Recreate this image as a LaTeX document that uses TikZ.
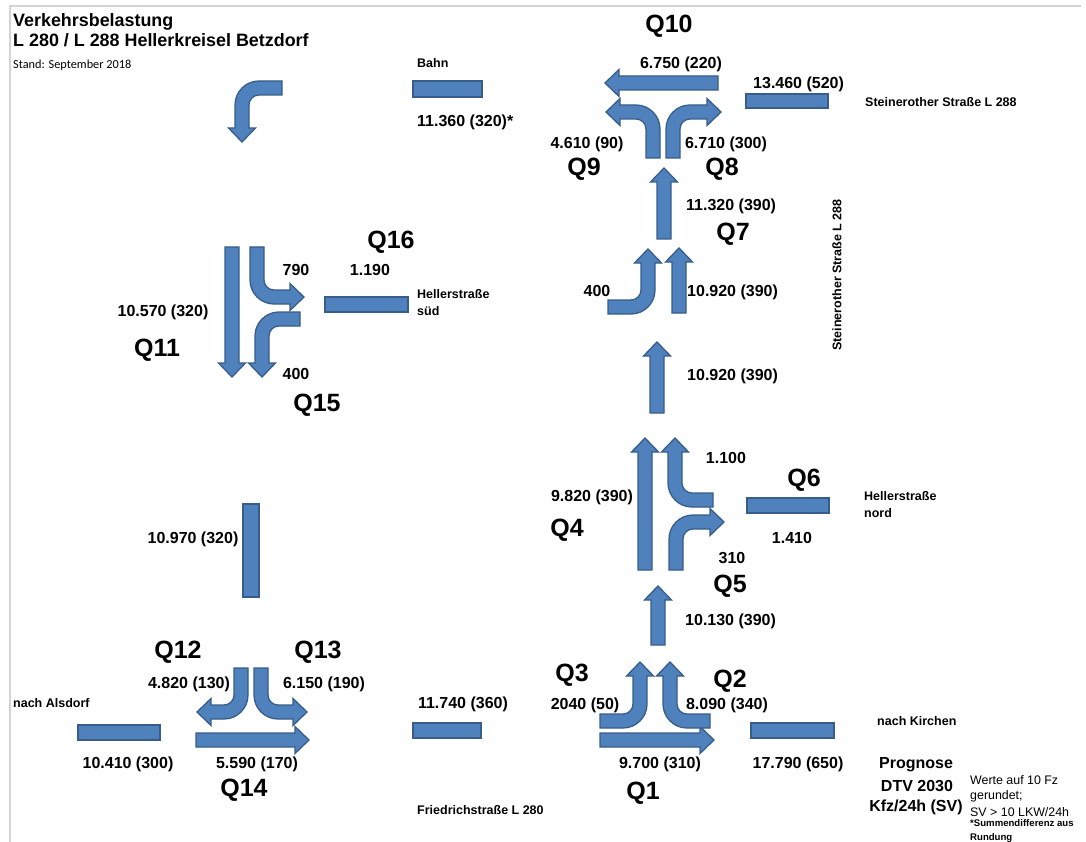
\documentclass[tikz,border=0pt]{standalone}
\usepackage{fontspec}
\setmainfont{Liberation Sans}
\newfontfamily\calibrifont{Carlito}
\definecolor{flowfill}{HTML}{4F81BD}
\definecolor{flowline}{HTML}{385D8A}
\definecolor{framegrey}{HTML}{D4D4D4}
\tikzset{
  flow/.style={fill=flowfill, draw=flowline, line width=1.3pt, line join=miter},
  num/.style={font=\fontsize{16}{19}\selectfont\bfseries, anchor=base, inner sep=0pt},
  numw/.style={num, anchor=base west},
  qlab/.style={font=\fontsize{25}{30}\selectfont\bfseries, anchor=base, inner sep=0pt},
  smalllab/.style={font=\fontsize{12.5}{15}\selectfont\bfseries, anchor=base west, inner sep=0pt},
  notelab/.style={font=\fontsize{12.4}{15}\selectfont, anchor=base west, inner sep=0pt},
  tinylab/.style={font=\fontsize{9.6}{11}\selectfont\bfseries, anchor=base west, inner sep=0pt},
  titlelab/.style={font=\fontsize{17.9}{21}\selectfont\bfseries, anchor=base west, inner sep=0pt}
}
% straight arrows: #1 centre line, #2 tail, #3 tip
\newcommand\arrUp[3]{\draw[flow] (#1-7,#2) -- (#1-7,#3+14) -- (#1-13.5,#3+14) -- (#1,#3) -- (#1+13.5,#3+14) -- (#1+7,#3+14) -- (#1+7,#2) -- cycle;}
\newcommand\arrDown[3]{\draw[flow] (#1-7,#2) -- (#1-7,#3-14) -- (#1-13.5,#3-14) -- (#1,#3) -- (#1+13.5,#3-14) -- (#1+7,#3-14) -- (#1+7,#2) -- cycle;}
\newcommand\arrRight[3]{\draw[flow] (#2,#1-7) -- (#3-14,#1-7) -- (#3-14,#1-13.5) -- (#3,#1) -- (#3-14,#1+13.5) -- (#3-14,#1+7) -- (#2,#1+7) -- cycle;}
\newcommand\arrLeft[3]{\draw[flow] (#2,#1-7) -- (#3+14,#1-7) -- (#3+14,#1-13.5) -- (#3,#1) -- (#3+14,#1+13.5) -- (#3+14,#1+7) -- (#2,#1+7) -- cycle;}
% bent arrow, head on the horizontal leg (canonical: up, then right)
\newcommand\bentH[3]{\begin{scope}[#1]
  \draw[flow] (0,#2) -- (0,24) .. controls (0,10.74) and (10.74,0) .. (24,0) -- (#3,0) -- (#3,-6.5) -- (#3+14,7) -- (#3,20.5) -- (#3,14) -- (24,14) .. controls (18.48,14) and (14,18.48) .. (14,24) -- (14,#2) -- cycle;
\end{scope}}
% bent arrow, head on the vertical leg (canonical: from right going left, then down)
\newcommand\bentV[3]{\begin{scope}[#1]
  \draw[flow] (#2,0) -- (24,0) .. controls (10.74,0) and (0,10.74) .. (0,24) -- (0,#3) -- (-6.5,#3) -- (7,#3+14) -- (20.5,#3) -- (14,#3) -- (14,24) .. controls (14,18.48) and (18.48,14) .. (24,14) -- (#2,14) -- cycle;
\end{scope}}
\newcommand\roadbar[2]{\draw[flow] (#1) rectangle (#2);}
\begin{document}
\begin{tikzpicture}[x=1pt,y=-1pt]
\useasboundingbox[fill=white] (0,0) rectangle (1086,842);
\draw[framegrey, line width=1.2pt] (10,842) -- (10,6) -- (1081,6);

% titles
\node[titlelab] (t1) at (13,27) {Verkehrsbelastung};
\node[titlelab] (t2) at (13,47) {L 280 / L 288 Hellerkreisel Betzdorf};
\node[anchor=base west, inner sep=0pt, font=\calibrifont\fontsize{12.3}{15}\selectfont] (t3) at (13,69) {Stand: September 2018};

% road bars
\roadbar{413,81}{482,97}
\roadbar{746,94}{828,108}
\roadbar{325,297}{408,312}
\roadbar{747,498}{829,513}
\roadbar{243,504}{259,597}
\roadbar{78,725}{160,740}
\roadbar{413,723}{481,738}
\roadbar{751,723}{834,738}

% straight arrows
\arrLeft{83}{718}{605}
\arrUp{664}{239}{168}
\arrUp{679}{313}{248}
\arrUp{657}{413}{342}
\arrUp{645}{570}{438}
\arrUp{658}{645}{586}
\arrRight{740}{600}{714}
\arrRight{740}{196}{309}
\arrDown{232}{247}{377}

% bent arrows
\bentV{shift={(235,81)}}{47}{47}
\bentV{shift={(255,312)}}{45}{51}
\bentV{shift={(655,314)},xscale=-1,yscale=-1}{47}{51}
\bentV{shift={(668,507)},yscale=-1}{45}{55}
\bentV{shift={(647,728)},xscale=-1,yscale=-1}{47}{52}
\bentV{shift={(663,728)},yscale=-1}{47}{52}
\bentH{shift={(666,105)}}{53}{41}
\bentH{shift={(660,105)},xscale=-1}{53}{40}
\bentH{shift={(669,515)}}{55}{41}
\bentH{shift={(250,304)},yscale=-1}{57}{40}
\bentH{shift={(248,719)},xscale=-1,yscale=-1}{51}{37}
\bentH{shift={(254,719)},yscale=-1}{51}{39}

% numbers
\node[numw] (n1) at (417,127) {11.360 (320)*};
\node[num] (n2) at (681,69) {6.750 (220)};
\node[numw] (n3) at (753,89) {13.460 (520)};
\node[num] (n4) at (587,149) {4.610 (90)};
\node[num] (n5) at (726,149) {6.710 (300)};
\node[numw] (n6) at (686,211) {11.320 (390)};
\node[num] (n7) at (597,296) {400};
\node[numw] (n8) at (687,296) {10.920 (390)};
\node[numw] (n9) at (687,380) {10.920 (390)};
\node[num] (n10) at (726,463) {1.100};
\node[num] (n11) at (592,501) {9.820 (390)};
\node[num] (n12) at (792,543) {1.410};
\node[num] (n13) at (732,563) {310};
\node[numw] (n14) at (685,625) {10.130 (390)};
\node[num] (n15) at (585,709) {2040 (50)};
\node[num] (n16) at (727,709) {8.090 (340)};
\node[num] (n17) at (660,768) {9.700 (310)};
\node[num] (n18) at (798,768) {17.790 (650)};
\node[num] (n19) at (463,708) {11.740 (360)};
\node[num] (n20) at (189,688) {4.820 (130)};
\node[num] (n21) at (324,688) {6.150 (190)};
\node[num] (n22) at (128,768) {10.410 (300)};
\node[num] (n23) at (257,768) {5.590 (170)};
\node[num] (n24) at (193,543) {10.970 (320)};
\node[num] (n25) at (163,316) {10.570 (320)};
\node[num] (n26) at (296,275) {790};
\node[num] (n27) at (370,275) {1.190};
\node[num] (n28) at (296,379) {400};
\node[num] (p1) at (916,768) {Prognose};
\node[num] (p2) at (917,791) {DTV 2030};
\node[num] (p3) at (916,811) {Kfz/24h (SV)};

% Q labels
\node[qlab] (q10) at (669,33) {Q10};
\node[qlab] (q9) at (584,176) {Q9};
\node[qlab] (q8) at (722,176) {Q8};
\node[qlab] (q7) at (733,241) {Q7};
\node[qlab] (q6) at (804,486) {Q6};
\node[qlab] (q4) at (567,536) {Q4};
\node[qlab] (q5) at (730,592) {Q5};
\node[qlab] (q3) at (572,681) {Q3};
\node[qlab] (q2) at (730,687) {Q2};
\node[qlab] (q1) at (643,799) {Q1};
\node[qlab] (q16) at (391,249) {Q16};
\node[qlab] (q15) at (317,411) {Q15};
\node[qlab] (q11) at (157,356) {Q11};
\node[qlab] (q12) at (178,658) {Q12};
\node[qlab] (q13) at (318,658) {Q13};
\node[qlab] (q14) at (244,796) {Q14};

% street names
\node[smalllab] (s1) at (417,67.5) {Bahn};
\node[smalllab] (s2) at (865,106.5) {Steinerother Straße L 288};
\node[smalllab, anchor=center, rotate=90] (s3) at (837,275) {Steinerother Straße L 288};
\node[smalllab] (s4) at (417,298.5) {Hellerstraße};
\node[smalllab] (s5) at (417,315.5) {süd};
\node[smalllab] (s6) at (864,500.5) {Hellerstraße};
\node[smalllab] (s7) at (864,517.5) {nord};
\node[smalllab] (s8) at (13,707.5) {nach Alsdorf};
\node[smalllab] (s9) at (877,725.5) {nach Kirchen};
\node[smalllab] (s10) at (417,814.5) {Friedrichstraße L 280};

% notes
\node[notelab] (w1) at (970,784.5) {Werte auf 10 Fz};
\node[notelab] (w2) at (970,799.5) {gerundet;};
\node[notelab] (w3) at (970,816.5) {SV > 10 LKW/24h};
\node[tinylab] (w4) at (970,826.5) {*Summendifferenz aus};
\node[tinylab] (w5) at (970,840.5) {Rundung};
\end{tikzpicture}
\end{document}
